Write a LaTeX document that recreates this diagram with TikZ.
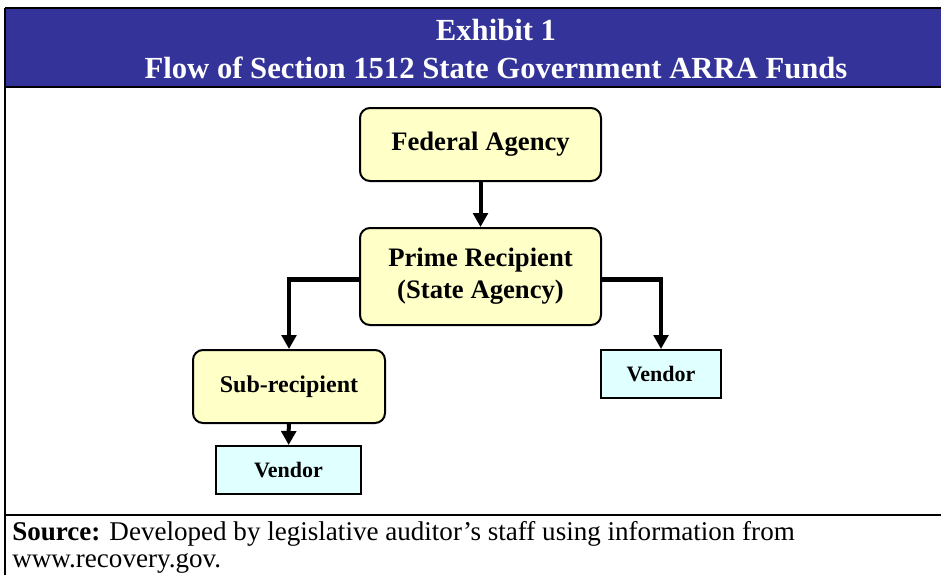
\documentclass[tikz,border=0pt]{standalone}
\usepackage{fontspec}
\setmainfont{Liberation Serif}
\usetikzlibrary{arrows.meta}

\definecolor{headblue}{RGB}{51,51,153}
\definecolor{boxyellow}{RGB}{255,255,200}
\definecolor{boxcyan}{RGB}{224,255,255}

\begin{document}
\begin{tikzpicture}[x=0.75pt, y=-0.75pt]
\useasboundingbox (0,0) rectangle (941,575);

% frame and header band
\fill[headblue] (6,9) rectangle (941,86);
\draw[line width=1.5pt] (5,8) -- (941,8);
\draw[line width=1.8pt] (5,87) -- (941,87);
\draw[line width=1.5pt] (5,515) -- (941,515);
\draw[line width=1.5pt] (5,8) -- (5,575);

\node (title) at (496,49) [text=white, align=center, font=\bfseries\fontsize{23}{28}\selectfont]
    {Exhibit 1\\Flow of Section 1512 State Government ARRA Funds};

\begin{scope}[every node/.style={draw=black, line width=1.5pt, font=\bfseries, align=center, inner sep=2pt}]
    \node (fed) at (480.5,144.5) [rounded corners=7.5pt, fill=boxyellow, minimum width=180.75pt, minimum height=54.75pt,
        font=\bfseries\fontsize{20}{24}\selectfont] {Federal Agency};
    \node (prime) at (480.5,276.5) [rounded corners=7.5pt, fill=boxyellow, minimum width=180.75pt, minimum height=72.75pt,
        font=\bfseries\fontsize{20}{24}\selectfont] {Prime Recipient\\(State Agency)};
    \node (sub) at (289,386.5) [rounded corners=7.5pt, fill=boxyellow, minimum width=144pt, minimum height=54.75pt,
        font=\bfseries\fontsize{18}{21}\selectfont] {Sub-recipient};
    \node (vendr) at (661,374) [fill=boxcyan, minimum width=90pt, minimum height=36pt,
        font=\bfseries\fontsize{16.5}{19}\selectfont] {Vendor};
    \node (vendl) at (288.5,470) [fill=boxcyan, minimum width=108.75pt, minimum height=36pt,
        font=\bfseries\fontsize{16.5}{19}\selectfont] {Vendor};
\end{scope}

\begin{scope}[>={Triangle[length=10.5pt, width=11pt]}, line width=3.6pt]
    \draw [->, line width=3pt] (fed) -- (prime);
    \draw [->] ([yshift=-2pt]prime.west) -| (sub.north);
    \draw [->] ([yshift=-2pt]prime.east) -| (vendr.north);
    \draw [->, line width=3pt] (sub) -- (vendl);
\end{scope}

\node (source) at (12,521) [anchor=north west, align=left, inner sep=0pt, font=\fontsize{20.3}{20.25}\selectfont]
    {\textbf{Source:} Developed by legislative auditor’s staff using information from\\www.recovery.gov.};

\end{tikzpicture}
\end{document}
